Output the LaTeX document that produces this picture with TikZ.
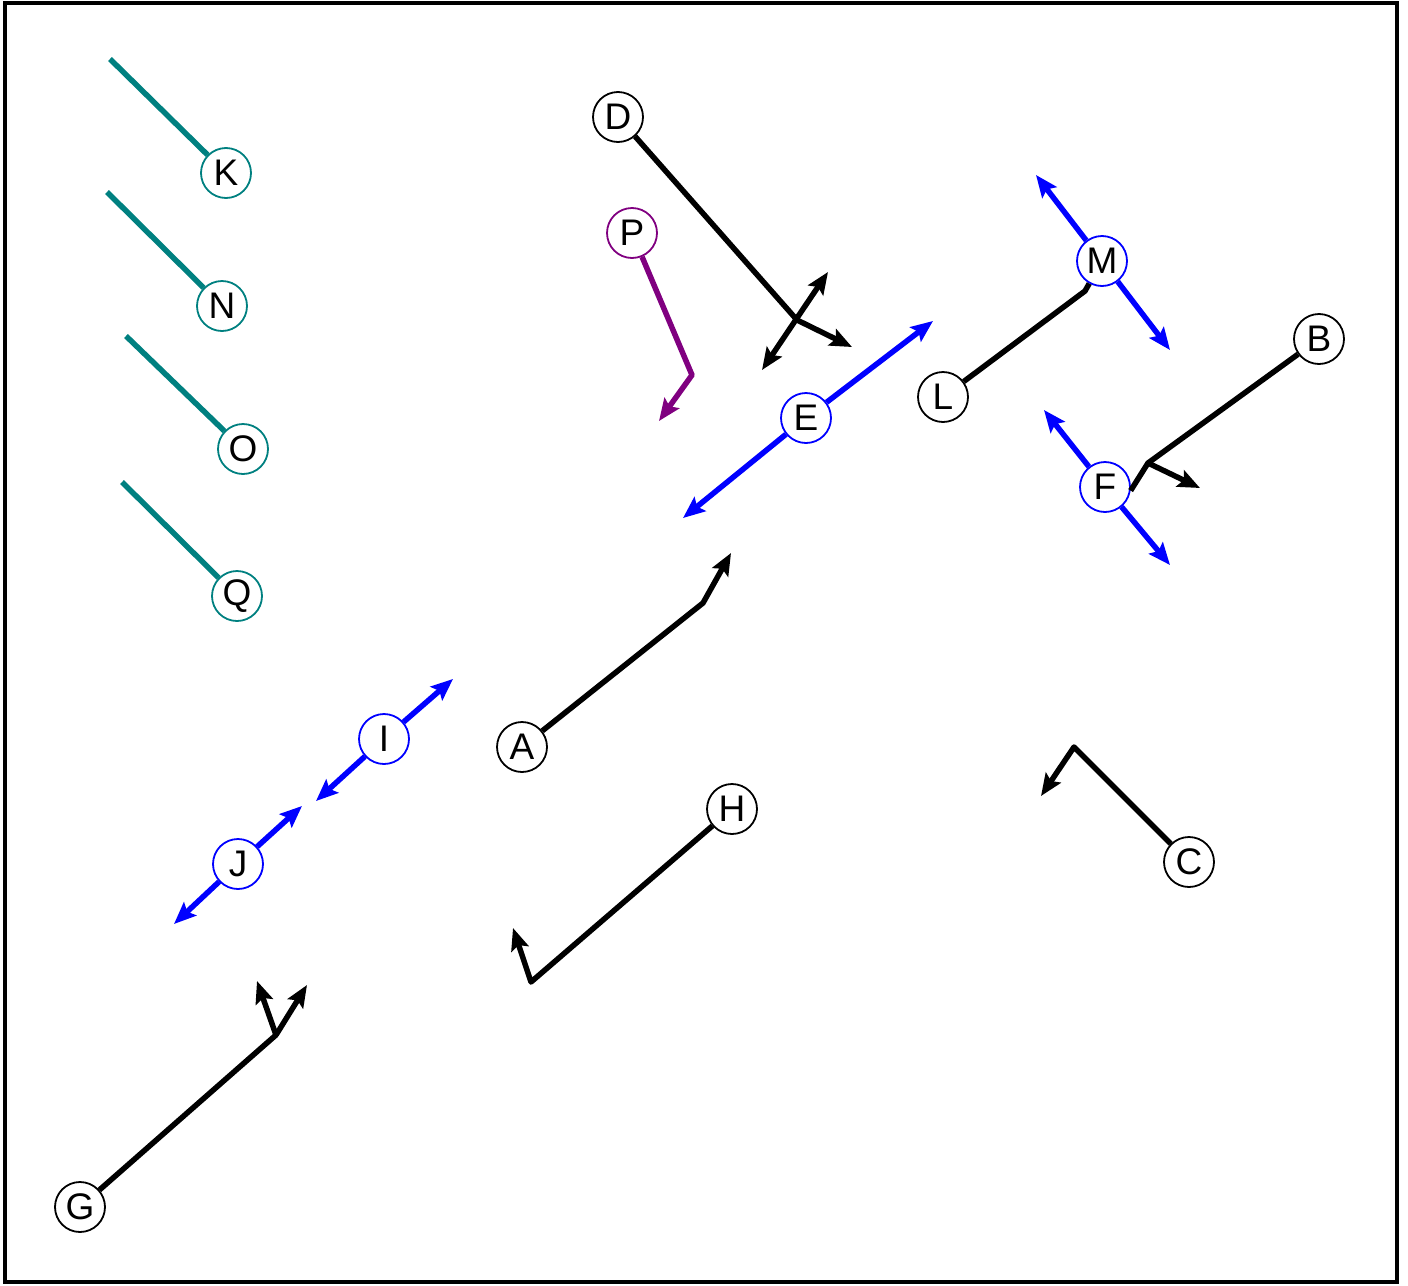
\documentclass[tikz,border=0pt]{standalone}
\usepackage{fontspec}
\setmainfont{Liberation Sans}
\usetikzlibrary{arrows.meta}
\definecolor{plum}{RGB}{128,0,128}
\definecolor{sea}{RGB}{0,128,128}

\begin{document}
\begin{tikzpicture}[x=1pt, y=-1pt,
    line width=5.5pt,
    >={Stealth[length=22pt,width=18pt,inset=4pt]}]
    % style of players
    \tikzset{player/.style={circle,draw,line width=1.8pt,fill=white,
        minimum size=50pt,inner sep=0pt,text=black,
        font=\fontsize{37}{37}\selectfont}}
    \tikzset{route/.style={line width=5.5pt,line join=round}}
    \useasboundingbox (0,0) rectangle (1408,1285);
    % frame
    \draw[line width=4pt] (5,3) rectangle (1397,1282);
    % free ends
    \coordinate (k1) at (110,59);
    \coordinate (n1) at (107,192);
    \coordinate (o1) at (126,336);
    \coordinate (q1) at (122,482);
    \coordinate (d1) at (797,320);
    \coordinate (d2) at (852,347);
    \coordinate (d3) at (762,370);
    \coordinate (d4) at (828,272);
    \coordinate (p1) at (692,375);
    \coordinate (p2) at (659,421);
    \coordinate (e1) at (683,518);
    \coordinate (e2) at (933,321);
    \coordinate (m1) at (1036,175);
    \coordinate (m2) at (1170,350);
    \coordinate (l1) at (1085,291);
    \coordinate (b1) at (1148,463);
    \coordinate (b2) at (1200,488);
    \coordinate (f1) at (1044,410);
    \coordinate (f2) at (1170,565);
    \coordinate (i1) at (316,801);
    \coordinate (i2) at (453,679);
    \coordinate (j1) at (174,924);
    \coordinate (j2) at (302,806);
    \coordinate (a1) at (703,603);
    \coordinate (a2) at (731,553);
    \coordinate (h1) at (531,982);
    \coordinate (h2) at (513,928);
    \coordinate (c1) at (1074,747);
    \coordinate (c2) at (1041,796);
    \coordinate (g1) at (276,1035);
    \coordinate (g2) at (257,981);
    \coordinate (g3) at (307,985);
    % players
    \node[player,draw=sea]   (K) at (226,173)  {K};
    \node[player,draw=sea]   (N) at (222,306)  {N};
    \node[player,draw=sea]   (O) at (243,449)  {O};
    \node[player,draw=sea]   (Q) at (237,596)  {Q};
    \node[player]            (D) at (618,117)  {D};
    \node[player,draw=plum]  (P) at (632,233)  {P};
    \node[player,draw=blue]  (E) at (806,418)  {E};
    \node[player,draw=blue]  (M) at (1102,261) {M};
    \node[player]            (L) at (943,397)  {L};
    \node[player]            (B) at (1319,339) {B};
    \node[player,draw=blue]  (F) at (1105,487) {F};
    \node[player,draw=blue]  (I) at (384,739)  {I};
    \node[player]            (A) at (522,747)  {A};
    \node[player]            (H) at (732,809)  {H};
    \node[player]            (C) at (1189,862) {C};
    \node[player,draw=blue]  (J) at (238,864)  {J};
    \node[player]            (G) at (80,1207)  {G};
    % teal routes
    \draw[route,sea] (K) -- (k1);
    \draw[route,sea] (N) -- (n1);
    \draw[route,sea] (O) -- (o1);
    \draw[route,sea] (Q) -- (q1);
    % purple route
    \draw[route,plum,->] (P) -- (p1) -- (p2);
    % black routes
    \draw[route] (D) -- (d1);
    \draw[route,->] (d1) -- (d2);
    \draw[route,<->] (d3) -- (d4);
    \draw[route] (L) -- (l1) -- (M);
    \draw[route] (B) -- (b1) -- (F.-8);
    \draw[route,->] (b1) -- (b2);
    \draw[route,->] (A) -- (a1) -- (a2);
    \draw[route,->] (H) -- (h1) -- (h2);
    \draw[route,->] (C) -- (c1) -- (c2);
    \draw[route,->] (G) -- (g1) -- (g2);
    \draw[route,->] (g1) -- (g3);
    % blue moves
    \draw[route,blue,->] (E) -- (e1);
    \draw[route,blue,->] (E) -- (e2);
    \draw[route,blue,->] (M) -- (m1);
    \draw[route,blue,->] (M) -- (m2);
    \draw[route,blue,->] (F) -- (f1);
    \draw[route,blue,->] (F) -- (f2);
    \draw[route,blue,->] (I) -- (i1);
    \draw[route,blue,->] (I) -- (i2);
    \draw[route,blue,->] (J) -- (j1);
    \draw[route,blue,->] (J) -- (j2);
\end{tikzpicture}
\end{document}
